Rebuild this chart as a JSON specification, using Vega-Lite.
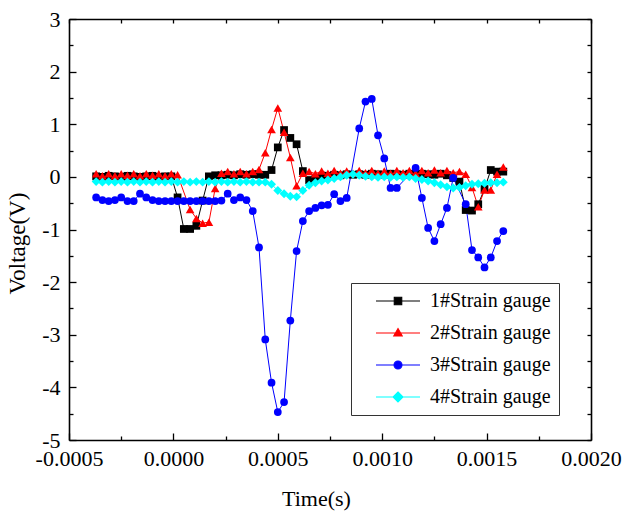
{
  "$schema": "https://vega.github.io/schema/vega-lite/v6.json",
  "width": 522,
  "height": 421,
  "autosize": {"type": "none"},
  "padding": {"left": 69, "top": 19, "right": 36, "bottom": 71},
  "background": "white",
  "config": {"view": {"stroke": null}},
  "data": {"values": [
    {"t":-0.00037,"s":1,"v":0.01},{"t":-0.00034,"s":1,"v":0.0},{"t":-0.00031,"s":1,"v":0.02},{"t":-0.00028,"s":1,"v":0.01},{"t":-0.00025,"s":1,"v":0.0},{"t":-0.00022,"s":1,"v":0.02},{"t":-0.00019,"s":1,"v":0.01},{"t":-0.00016,"s":1,"v":0.0},{"t":-0.00013,"s":1,"v":0.01},{"t":-0.0001,"s":1,"v":0.02},{"t":-0.00007,"s":1,"v":0.0},{"t":-0.00004,"s":1,"v":0.01},{"t":-0.00001,"s":1,"v":0.01},{"t":0.00002,"s":1,"v":-0.39},{"t":0.00005,"s":1,"v":-0.99},{"t":0.00008,"s":1,"v":-0.99},{"t":0.00011,"s":1,"v":-0.93},{"t":0.00014,"s":1,"v":-0.45},{"t":0.00017,"s":1,"v":0.01},{"t":0.0002,"s":1,"v":0.03},{"t":0.00023,"s":1,"v":0.03},{"t":0.00026,"s":1,"v":0.04},{"t":0.00029,"s":1,"v":0.03},{"t":0.00032,"s":1,"v":0.05},{"t":0.00035,"s":1,"v":0.04},{"t":0.00038,"s":1,"v":0.05},{"t":0.00041,"s":1,"v":0.04},{"t":0.00044,"s":1,"v":0.04},{"t":0.00047,"s":1,"v":0.13},{"t":0.0005,"s":1,"v":0.56},{"t":0.00053,"s":1,"v":0.89},{"t":0.00056,"s":1,"v":0.74},{"t":0.00059,"s":1,"v":0.62},{"t":0.00062,"s":1,"v":0.11},{"t":0.00065,"s":1,"v":-0.06},{"t":0.00068,"s":1,"v":-0.03},{"t":0.00071,"s":1,"v":0.0},{"t":0.00074,"s":1,"v":0.02},{"t":0.00077,"s":1,"v":0.04},{"t":0.0008,"s":1,"v":0.03},{"t":0.00083,"s":1,"v":0.05},{"t":0.00086,"s":1,"v":0.04},{"t":0.00089,"s":1,"v":0.05},{"t":0.00092,"s":1,"v":0.04},{"t":0.00095,"s":1,"v":0.06},{"t":0.00098,"s":1,"v":0.05},{"t":0.00101,"s":1,"v":0.04},{"t":0.00104,"s":1,"v":0.06},{"t":0.00107,"s":1,"v":0.05},{"t":0.0011,"s":1,"v":0.04},{"t":0.00113,"s":1,"v":0.06},{"t":0.00116,"s":1,"v":0.05},{"t":0.00119,"s":1,"v":0.06},{"t":0.00122,"s":1,"v":0.05},{"t":0.00125,"s":1,"v":0.04},{"t":0.00128,"s":1,"v":0.06},{"t":0.00131,"s":1,"v":0.03},{"t":0.00134,"s":1,"v":-0.02},{"t":0.00137,"s":1,"v":-0.09},{"t":0.0014,"s":1,"v":-0.63},{"t":0.00143,"s":1,"v":-0.64},{"t":0.00146,"s":1,"v":-0.52},{"t":0.00149,"s":1,"v":-0.23},{"t":0.00152,"s":1,"v":0.13},{"t":0.00155,"s":1,"v":0.1},{"t":0.00158,"s":1,"v":0.1},
    {"t":-0.00037,"s":2,"v":0.06},{"t":-0.00034,"s":2,"v":0.02},{"t":-0.00031,"s":2,"v":0.06},{"t":-0.00028,"s":2,"v":0.02},{"t":-0.00025,"s":2,"v":0.06},{"t":-0.00022,"s":2,"v":0.03},{"t":-0.00019,"s":2,"v":0.06},{"t":-0.00016,"s":2,"v":0.02},{"t":-0.00013,"s":2,"v":0.06},{"t":-0.0001,"s":2,"v":0.03},{"t":-0.00007,"s":2,"v":0.06},{"t":-0.00004,"s":2,"v":0.02},{"t":-0.00001,"s":2,"v":0.06},{"t":0.00002,"s":2,"v":0.04},{"t":0.00008,"s":2,"v":-0.62},{"t":0.00011,"s":2,"v":-0.79},{"t":0.00014,"s":2,"v":-0.88},{"t":0.00017,"s":2,"v":-0.86},{"t":0.0002,"s":2,"v":-0.22},{"t":0.00023,"s":2,"v":0.07},{"t":0.00026,"s":2,"v":0.1},{"t":0.00029,"s":2,"v":0.06},{"t":0.00032,"s":2,"v":0.1},{"t":0.00035,"s":2,"v":0.06},{"t":0.00038,"s":2,"v":0.1},{"t":0.00041,"s":2,"v":0.14},{"t":0.00044,"s":2,"v":0.46},{"t":0.00047,"s":2,"v":0.9},{"t":0.0005,"s":2,"v":1.31},{"t":0.00053,"s":2,"v":0.85},{"t":0.00056,"s":2,"v":0.37},{"t":0.00059,"s":2,"v":-0.17},{"t":0.00062,"s":2,"v":0.07},{"t":0.00065,"s":2,"v":0.1},{"t":0.00068,"s":2,"v":0.06},{"t":0.00071,"s":2,"v":0.11},{"t":0.00074,"s":2,"v":0.07},{"t":0.00077,"s":2,"v":0.12},{"t":0.0008,"s":2,"v":0.07},{"t":0.00083,"s":2,"v":0.11},{"t":0.00086,"s":2,"v":0.07},{"t":0.00089,"s":2,"v":0.12},{"t":0.00092,"s":2,"v":0.08},{"t":0.00095,"s":2,"v":0.12},{"t":0.00098,"s":2,"v":0.07},{"t":0.00101,"s":2,"v":0.11},{"t":0.00104,"s":2,"v":0.07},{"t":0.00107,"s":2,"v":0.12},{"t":0.0011,"s":2,"v":0.08},{"t":0.00113,"s":2,"v":0.12},{"t":0.00116,"s":2,"v":0.07},{"t":0.00119,"s":2,"v":0.12},{"t":0.00122,"s":2,"v":0.08},{"t":0.00125,"s":2,"v":0.13},{"t":0.00128,"s":2,"v":0.08},{"t":0.00131,"s":2,"v":0.12},{"t":0.00134,"s":2,"v":0.08},{"t":0.00137,"s":2,"v":0.1},{"t":0.0014,"s":2,"v":0.05},{"t":0.00143,"s":2,"v":-0.2},{"t":0.00146,"s":2,"v":-0.57},{"t":0.00149,"s":2,"v":-0.25},{"t":0.00152,"s":2,"v":-0.25},{"t":0.00155,"s":2,"v":0.05},{"t":0.00158,"s":2,"v":0.19},
    {"t":-0.00037,"s":3,"v":-0.39},{"t":-0.00034,"s":3,"v":-0.44},{"t":-0.00031,"s":3,"v":-0.46},{"t":-0.00028,"s":3,"v":-0.44},{"t":-0.00025,"s":3,"v":-0.39},{"t":-0.00022,"s":3,"v":-0.46},{"t":-0.00019,"s":3,"v":-0.46},{"t":-0.00016,"s":3,"v":-0.32},{"t":-0.00013,"s":3,"v":-0.39},{"t":-0.0001,"s":3,"v":-0.44},{"t":-0.00007,"s":3,"v":-0.46},{"t":-0.00004,"s":3,"v":-0.46},{"t":-0.00001,"s":3,"v":-0.46},{"t":0.00002,"s":3,"v":-0.46},{"t":0.00005,"s":3,"v":-0.46},{"t":0.00008,"s":3,"v":-0.46},{"t":0.00011,"s":3,"v":-0.46},{"t":0.00014,"s":3,"v":-0.46},{"t":0.00017,"s":3,"v":-0.46},{"t":0.0002,"s":3,"v":-0.46},{"t":0.00023,"s":3,"v":-0.45},{"t":0.00026,"s":3,"v":-0.32},{"t":0.00029,"s":3,"v":-0.44},{"t":0.00032,"s":3,"v":-0.39},{"t":0.00035,"s":3,"v":-0.44},{"t":0.00038,"s":3,"v":-0.65},{"t":0.00041,"s":3,"v":-1.34},{"t":0.00044,"s":3,"v":-3.09},{"t":0.00047,"s":3,"v":-3.91},{"t":0.0005,"s":3,"v":-4.47},{"t":0.00053,"s":3,"v":-4.28},{"t":0.00056,"s":3,"v":-2.73},{"t":0.00059,"s":3,"v":-1.41},{"t":0.00062,"s":3,"v":-0.84},{"t":0.00065,"s":3,"v":-0.65},{"t":0.00068,"s":3,"v":-0.59},{"t":0.00071,"s":3,"v":-0.54},{"t":0.00074,"s":3,"v":-0.53},{"t":0.00077,"s":3,"v":-0.33},{"t":0.0008,"s":3,"v":-0.46},{"t":0.00083,"s":3,"v":-0.4},{"t":0.00089,"s":3,"v":0.92},{"t":0.00092,"s":3,"v":1.43},{"t":0.00095,"s":3,"v":1.48},{"t":0.00098,"s":3,"v":0.79},{"t":0.00101,"s":3,"v":0.35},{"t":0.00104,"s":3,"v":-0.21},{"t":0.00107,"s":3,"v":-0.21},{"t":0.00116,"s":3,"v":0.17},{"t":0.00119,"s":3,"v":-0.4},{"t":0.00122,"s":3,"v":-0.97},{"t":0.00125,"s":3,"v":-1.22},{"t":0.00128,"s":3,"v":-0.9},{"t":0.00131,"s":3,"v":-0.59},{"t":0.00134,"s":3,"v":-0.02},{"t":0.0014,"s":3,"v":-0.52},{"t":0.00143,"s":3,"v":-1.39},{"t":0.00146,"s":3,"v":-1.53},{"t":0.00149,"s":3,"v":-1.72},{"t":0.00152,"s":3,"v":-1.53},{"t":0.00155,"s":3,"v":-1.22},{"t":0.00158,"s":3,"v":-1.03},
    {"t":-0.00037,"s":4,"v":-0.09},{"t":-0.00034,"s":4,"v":-0.1},{"t":-0.00031,"s":4,"v":-0.09},{"t":-0.00028,"s":4,"v":-0.1},{"t":-0.00025,"s":4,"v":-0.09},{"t":-0.00022,"s":4,"v":-0.1},{"t":-0.00019,"s":4,"v":-0.09},{"t":-0.00016,"s":4,"v":-0.1},{"t":-0.00013,"s":4,"v":-0.09},{"t":-0.0001,"s":4,"v":-0.1},{"t":-0.00007,"s":4,"v":-0.09},{"t":-0.00004,"s":4,"v":-0.1},{"t":-0.00001,"s":4,"v":-0.09},{"t":0.00002,"s":4,"v":-0.1},{"t":0.00005,"s":4,"v":-0.09},{"t":0.00008,"s":4,"v":-0.1},{"t":0.00011,"s":4,"v":-0.09},{"t":0.00014,"s":4,"v":-0.1},{"t":0.00017,"s":4,"v":-0.09},{"t":0.0002,"s":4,"v":-0.1},{"t":0.00023,"s":4,"v":-0.09},{"t":0.00026,"s":4,"v":-0.1},{"t":0.00029,"s":4,"v":-0.09},{"t":0.00032,"s":4,"v":-0.1},{"t":0.00035,"s":4,"v":-0.09},{"t":0.00038,"s":4,"v":-0.1},{"t":0.00041,"s":4,"v":-0.1},{"t":0.00044,"s":4,"v":-0.1},{"t":0.00047,"s":4,"v":-0.14},{"t":0.0005,"s":4,"v":-0.26},{"t":0.00053,"s":4,"v":-0.32},{"t":0.00056,"s":4,"v":-0.37},{"t":0.00059,"s":4,"v":-0.38},{"t":0.00062,"s":4,"v":-0.26},{"t":0.00065,"s":4,"v":-0.16},{"t":0.00068,"s":4,"v":-0.11},{"t":0.00071,"s":4,"v":-0.08},{"t":0.00074,"s":4,"v":-0.06},{"t":0.00077,"s":4,"v":-0.03},{"t":0.0008,"s":4,"v":0.0},{"t":0.00083,"s":4,"v":0.03},{"t":0.00086,"s":4,"v":0.05},{"t":0.00089,"s":4,"v":0.03},{"t":0.00092,"s":4,"v":0.01},{"t":0.00095,"s":4,"v":0.0},{"t":0.00098,"s":4,"v":-0.01},{"t":0.00101,"s":4,"v":0.0},{"t":0.00104,"s":4,"v":-0.01},{"t":0.00107,"s":4,"v":0.0},{"t":0.0011,"s":4,"v":-0.01},{"t":0.00113,"s":4,"v":0.0},{"t":0.00116,"s":4,"v":-0.03},{"t":0.00119,"s":4,"v":-0.05},{"t":0.00122,"s":4,"v":-0.08},{"t":0.00125,"s":4,"v":-0.11},{"t":0.00128,"s":4,"v":-0.15},{"t":0.00131,"s":4,"v":-0.19},{"t":0.00134,"s":4,"v":-0.21},{"t":0.00137,"s":4,"v":-0.2},{"t":0.0014,"s":4,"v":-0.17},{"t":0.00143,"s":4,"v":-0.14},{"t":0.00146,"s":4,"v":-0.13},{"t":0.00149,"s":4,"v":-0.12},{"t":0.00152,"s":4,"v":-0.11},{"t":0.00155,"s":4,"v":-0.11},{"t":0.00158,"s":4,"v":-0.1}
  ]},
  "resolve": {"axis": {"x": "independent", "y": "independent"}},
  "layer": [
    {
      "mark": {"type": "line", "strokeWidth": 1, "clip": true},
      "encoding": {
        "x": {"field": "t", "type": "quantitative",
          "scale": {"domain": [-0.0005, 0.002], "nice": false, "zero": false},
          "axis": {"orient": "bottom", "values": [-0.0005, 0, 0.0005, 0.001, 0.0015, 0.002],
            "labelExpr": "datum.value < 0 ? '-' + format(-datum.value, '.4f') : format(datum.value, '.4f')",
            "tickSize": -7, "tickWidth": 1.3, "tickColor": "black",
            "domainColor": "black", "domainWidth": 1.6,
            "labelFont": "Times New Roman, Liberation Serif, serif", "labelFontSize": 22, "labelColor": "black", "labelPadding": 15,
            "labelFlush": false, "labelOverlap": false, "grid": false,
            "title": "Time(s)", "titleFont": "Times New Roman, Liberation Serif, serif", "titleFontSize": 22, "titleFontWeight": "normal", "titleColor": "black", "titlePadding": 19, "titleX": 247}},
        "y": {"field": "v", "type": "quantitative",
          "scale": {"domain": [-5, 3], "nice": false, "zero": false},
          "axis": {"orient": "left", "values": [-5, -4, -3, -2, -1, 0, 1, 2, 3],
            "labelExpr": "'' + datum.value",
            "tickSize": -7, "tickWidth": 1.3, "tickColor": "black",
            "domainColor": "black", "domainWidth": 1.6,
            "labelFont": "Times New Roman, Liberation Serif, serif", "labelFontSize": 22, "labelColor": "black", "labelPadding": 16,
            "labelFlush": false, "labelOverlap": false, "grid": false,
            "title": "Voltage(V)", "titleFont": "Times New Roman, Liberation Serif, serif", "titleFontSize": 23, "titleFontWeight": "normal", "titleColor": "black", "titlePadding": 12, "titleY": 224}},
        "color": {"field": "s", "type": "nominal", "scale": {"domain": [1, 2, 3, 4], "range": ["#000000", "#ff0000", "#0000ff", "#00ffff"]}, "legend": {"title": null}}
      }
    },
    {
      "mark": {"type": "point", "filled": true, "opacity": 1, "clip": true,
        "shape": {"expr": "datum.s == 1 ? 'square' : datum.s == 2 ? 'triangle-up' : datum.s == 3 ? 'circle' : 'diamond'"},
        "size": {"expr": "datum.s == 2 ? 75 : datum.s == 4 ? 80 : 60"}},
      "encoding": {
        "x": {"field": "t", "type": "quantitative",
          "axis": {"orient": "bottom", "values": [-0.00025, 0.00025, 0.00075, 0.00125, 0.00175],
            "tickSize": -4, "tickWidth": 1.3, "tickColor": "black", "labels": false, "domain": false, "grid": false, "title": null}},
        "y": {"field": "v", "type": "quantitative",
          "axis": {"orient": "left", "values": [-4.5, -3.5, -2.5, -1.5, -0.5, 0.5, 1.5, 2.5],
            "tickSize": -4, "tickWidth": 1.3, "tickColor": "black", "labels": false, "domain": false, "grid": false, "title": null}},
        "color": {"field": "s", "type": "nominal", "legend": {"title": null}}
      }
    },
    {
      "transform": [{"filter": "false"}],
      "mark": {"type": "point", "filled": true, "opacity": 1},
      "encoding": {
        "x": {"field": "t", "type": "quantitative",
          "axis": {"orient": "top", "values": [-0.0005, -0.00025, 0, 0.00025, 0.0005, 0.00075, 0.001, 0.00125, 0.0015, 0.00175, 0.002],
            "tickSize": -4, "tickWidth": 1.3, "tickColor": "black", "labels": false, "domainColor": "black", "domainWidth": 1.6, "grid": false, "title": null}},
        "y": {"field": "v", "type": "quantitative",
          "axis": {"orient": "right", "values": [-5, -4.5, -4, -3.5, -3, -2.5, -2, -1.5, -1, -0.5, 0, 0.5, 1, 1.5, 2, 2.5, 3],
            "tickSize": -4, "tickWidth": 1.3, "tickColor": "black", "labels": false, "domainColor": "black", "domainWidth": 1.6, "grid": false, "title": null}},
        "fill": {"field": "s", "type": "nominal", "scale": {"domain": [1, 2, 3, 4], "range": ["#000000", "#ff0000", "#0000ff", "#00ffff"]},
          "legend": {"orient": "none", "legendX": 282, "legendY": 264, "title": null,
            "labelExpr": "datum.value + '#Strain gauge'",
            "labelFont": "Times New Roman, Liberation Serif, serif", "labelFontSize": 20, "labelColor": "black",
            "strokeColor": "#333333", "fillColor": "white", "padding": 8,
            "rowPadding": 12, "symbolSize": 100, "symbolOffset": 29, "labelOffset": 22, "symbolStrokeWidth": 1.1}},
        "stroke": {"field": "s", "type": "nominal", "scale": {"domain": [1, 2, 3, 4], "range": ["#000000", "#ff0000", "#0000ff", "#00ffff"]}, "legend": {"title": null}},
        "shape": {"field": "s", "type": "nominal", "scale": {"domain": [1, 2, 3, 4], "range": [
          "M-4.4,0H4.4M-0.75,-0.75H0.75V0.75H-0.75Z",
          "M-4.4,0H4.4M0,-0.9L0.85,0.6H-0.85Z",
          "M-4.4,0H4.4M0.8,0A0.8,0.8,0,1,1,-0.8,0A0.8,0.8,0,1,1,0.8,0Z",
          "M-4.4,0H4.4M0,-1L1,0L0,1L-1,0Z"]}, "legend": {"title": null}}
      }
    }
  ]
}
